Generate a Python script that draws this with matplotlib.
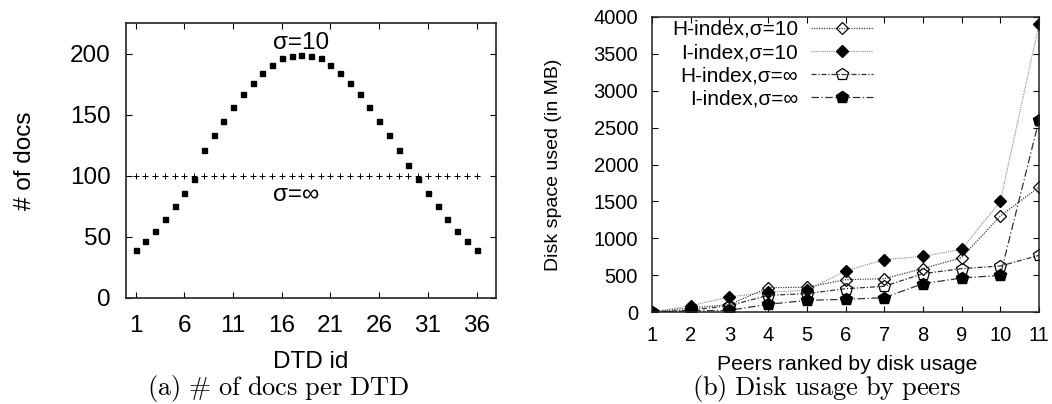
import matplotlib
matplotlib.use("Agg")
import matplotlib.pyplot as plt

plt.rcParams["font.family"] = ["Liberation Sans", "DejaVu Sans"]

# (a) number of docs per DTD
dtd_ids = list(range(1, 37))
docs_sigma10 = [39, 47, 55, 65, 75, 86, 97, 121, 133, 145, 156, 167, 176, 184, 191, 196, 198, 199,
                198, 196, 191, 184, 176, 167, 156, 145, 133, 121, 109, 97, 86, 75, 65, 55, 47, 39]
docs_sigma_inf = [100] * 36
dtd_ticks = [1, 6, 11, 16, 21, 26, 31, 36]
docs_ticks = [0, 50, 100, 150, 200]

# (b) disk usage by peers (MB)
peers = list(range(1, 12))
h_sigma10 = [0, 55, 100, 330, 335, 438, 452, 588, 737, 1302, 1695]
i_sigma10 = [0, 85, 203, 271, 294, 556, 710, 755, 850, 1500, 3900]
h_sigma_inf = [0, 25, 85, 226, 249, 316, 348, 520, 588, 624, 768]
i_sigma_inf = [0, 14, 23, 104, 158, 172, 194, 384, 461, 497, 2600]
disk_ticks = list(range(0, 4001, 500))

W, H = 1052, 404
fig = plt.figure(figsize=(W / 100, H / 100), dpi=100)


def px_axes(left, top, right, bottom):
    return fig.add_axes([left / W, 1 - bottom / H, (right - left) / W, (bottom - top) / H])


# ---- left panel ----
ax1 = px_axes(126, 23, 496, 298)
ax1.plot(dtd_ids, docs_sigma10, ls="none", marker="s", ms=3.6, color="black")
ax1.plot(dtd_ids, docs_sigma_inf, ls="none", marker="+", ms=4.5, mew=0.7, color="black")
ax1.text(18, 209, "σ=10", ha="center", va="center", fontsize=17.5)
ax1.text(17.5, 84, "σ=∞", ha="center", va="center", fontsize=17.5)
ax1.set_xlim(0, 38)
ax1.set_ylim(0, 225)
ax1.set_xticks(dtd_ticks)
ax1.set_yticks(docs_ticks)
ax1.tick_params(direction="in", top=True, right=True, length=4, width=0.8,
                labelsize=17.5)
ax1.tick_params(axis="x", pad=12)
ax1.tick_params(axis="y", pad=11)
ax1.set_xlabel("DTD id", fontsize=17.5, va="center")
ax1.xaxis.set_label_coords(0.5, (298 - 362) / 275)
ax1.set_ylabel("# of docs", fontsize=17.5, va="center")
ax1.yaxis.set_label_coords((25 - 126) / 370, 0.5)
for s in ax1.spines.values():
    s.set_linewidth(1.2)
    s.set_color("#222222")

# ---- right panel ----
ax2 = px_axes(652, 17, 1039, 312)
ax2.plot(peers, h_sigma10, ls=(0, (1, 1)), lw=0.9, color="#444444",
         marker="D", ms=6.5, mfc="none", mec="black", mew=0.9, label="H-index,σ=10")
ax2.plot(peers, i_sigma10, ls=(0, (1, 1)), lw=0.8, color="#888888",
         marker="D", ms=6.5, mfc="black", mec="black", label="I-index,σ=10")
ax2.plot(peers, h_sigma_inf, ls=(0, (4, 1.5, 1, 1.5)), lw=0.9, color="#333333",
         marker="p", ms=9, mfc="none", mec="black", mew=0.9, label="H-index,σ=∞")
ax2.plot(peers, i_sigma_inf, ls=(0, (6, 2, 1, 2)), lw=0.9, color="#333333",
         marker="p", ms=9, mfc="black", mec="black", label="I-index,σ=∞")
ax2.set_xlim(1, 11)
ax2.set_ylim(0, 4000)
ax2.set_xticks(peers)
ax2.set_yticks(disk_ticks)
ax2.tick_params(direction="in", top=True, right=True, length=4, width=0.8,
                labelsize=14.5)
ax2.tick_params(axis="x", pad=10)
ax2.tick_params(axis="y", pad=10)
ax2.set_xlabel("Peers ranked by disk usage", fontsize=15.2, va="center")
ax2.xaxis.set_label_coords((847 - 652) / 387, (312 - 365) / 295)
ax2.set_ylabel("Disk space used (in MB)", fontsize=14, va="center")
ax2.yaxis.set_label_coords((553 - 652) / 387, 0.5)
for s in ax2.spines.values():
    s.set_linewidth(1.1)
    s.set_color("#222222")

leg = ax2.legend(loc="upper right", bbox_to_anchor=((873 - 652) / 387, 0.99),
                 frameon=False, markerfirst=False, fontsize=15, borderpad=0,
                 borderaxespad=0, labelspacing=0.2, handlelength=3.0,
                 handletextpad=0.6)

# captions
fig.text(278 / W, 1 - 389 / H, r"$\mathrm{(a)\ \#\ of\ docs\ per\ DTD}$",
         ha="center", va="center", fontsize=19, math_fontfamily="cm")
fig.text(827 / W, 1 - 389 / H, r"$\mathrm{(b)\ Disk\ usage\ by\ peers}$",
         ha="center", va="center", fontsize=19, math_fontfamily="cm")

fig.savefig("out.png", dpi=100)
